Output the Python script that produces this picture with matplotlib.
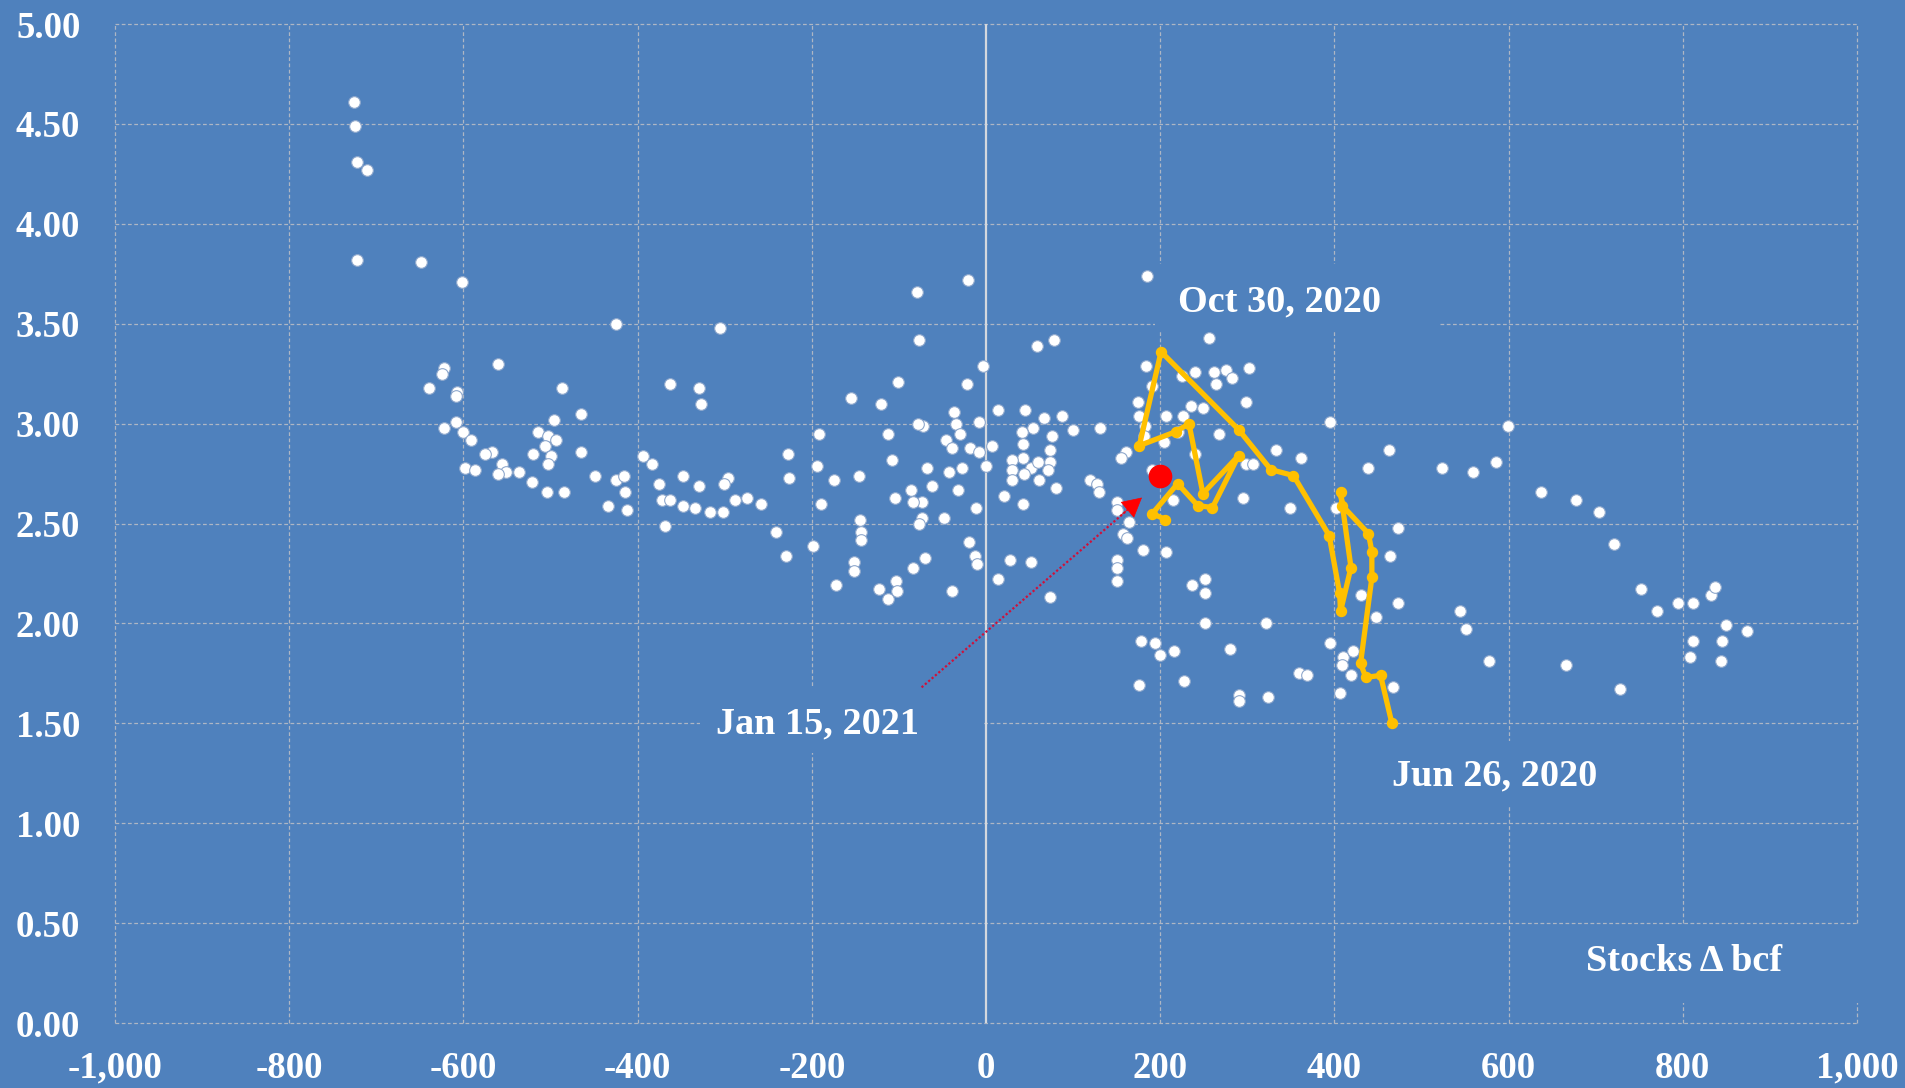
import matplotlib
matplotlib.use("Agg")
import matplotlib.pyplot as plt
from matplotlib.patches import Rectangle
from matplotlib.ticker import FuncFormatter, MultipleLocator

# ── Data ──────────────────────────────────────────────────────
# weekly storage change (bcf) vs price
stocks_x = [
    -726, -724, -722, -711, -722, -649, -602, -425, -305, -560, -622, -625, -640, -607, -609,
    -487, -363, -330, -327, -465, -496, -609, -622, -600, -591, -514, -503, -494, -506, -520,
    -500, -503, -465, -567, -575, -556, -551, -560, -598, -587, -536, -521, -504, -485, -449,
    -425, -416, -414, -434, -412, -394, -383, -376, -372, -363, -369, -348, -330, -348, -334,
    -317, -302, -296, -301, -288, -274, -258, -241, -230, -199, -227, -226, -192, -194, -190,
    -21, -79, -77, 58, 78, -4, -101, -22, -155, -121, -113, -72, -78, -37, -35, -30, -46, -39,
    -8, -18, -8, 7, 0, 14, 45, 67, 87, 100, 131, 54, 41, 43, 76, 74, 73, 43, 30, 30,
    52, 60, 44, 30, 61, 71, 80, 21, 43, -11, -28, -42, -68, -62, -32, -86, -74, -84, -104,
    -108, -146, -174, -74, -77, -48, -145, -144, -144, -152, -152, -172, -123, -112, -103, -102, -84, -70,
    -39, -19, -13, -10, 14, 27, 52, 74, 119, 127, 130, 150, 150, 164, 157, 162, 150, 150, 150,
    180, 207, 161, 155, 190, 215, 204, 220, 182, 176, 174, 207, 184, 191, 185, 256, 225, 240,
    262, 276, 282, 264, 302, 235, 249, 226, 240, 267, 181, 298,
    251, 236, 251, 251, 178, 194, 200, 216, 176, 227,
    299, 307, 333, 362, 395, 463, 439, 524, 559, 585, 295, 349, 402, 473, 464, 473, 431, 448,
    544, 551, 577, 395, 410, 421, 409, 419, 406, 467, 359, 368, 291, 291, 324, 322, 280,
    599, 637, 677, 704, 721, 752, 770, 794, 812, 832, 837, 850, 874, 812, 845, 808, 844, 666, 728,
]
price_y = [
    4.61, 4.49, 4.31, 4.27, 3.82, 3.81, 3.71, 3.50, 3.48, 3.30, 3.28, 3.25, 3.18, 3.16, 3.14,
    3.18, 3.20, 3.18, 3.10, 3.05, 3.02, 3.01, 2.98, 2.96, 2.92, 2.96, 2.94, 2.92, 2.89, 2.85,
    2.84, 2.80, 2.86, 2.86, 2.85, 2.80, 2.76, 2.75, 2.78, 2.77, 2.76, 2.71, 2.66, 2.66, 2.74,
    2.72, 2.74, 2.66, 2.59, 2.57, 2.84, 2.80, 2.70, 2.62, 2.62, 2.49, 2.74, 2.69, 2.59, 2.58,
    2.56, 2.56, 2.73, 2.70, 2.62, 2.63, 2.60, 2.46, 2.34, 2.39, 2.85, 2.73, 2.95, 2.79, 2.60,
    3.72, 3.66, 3.42, 3.39, 3.42, 3.29, 3.21, 3.20, 3.13, 3.10, 2.95, 2.99, 3.00, 3.06, 3.00, 2.95, 2.92, 2.88,
    3.01, 2.88, 2.86, 2.89, 2.79, 3.07, 3.07, 3.03, 3.04, 2.97, 2.98, 2.98, 2.96, 2.90, 2.94, 2.87, 2.81, 2.83, 2.82, 2.77,
    2.78, 2.81, 2.75, 2.72, 2.72, 2.77, 2.68, 2.64, 2.60, 2.58, 2.78, 2.76, 2.78, 2.69, 2.67, 2.67, 2.61, 2.61, 2.63,
    2.82, 2.74, 2.72, 2.53, 2.50, 2.53, 2.52, 2.46, 2.42, 2.31, 2.26, 2.19, 2.17, 2.12, 2.21, 2.16, 2.28, 2.33,
    2.16, 2.41, 2.34, 2.30, 2.22, 2.32, 2.31, 2.13, 2.72, 2.70, 2.66, 2.61, 2.57, 2.51, 2.45, 2.43, 2.32, 2.28, 2.21,
    2.37, 2.36, 2.86, 2.83, 2.77, 2.62, 2.91, 2.96, 2.99, 3.04, 3.11, 3.04, 3.29, 3.19, 3.74, 3.43, 3.24, 3.26,
    3.26, 3.27, 3.23, 3.20, 3.28, 3.09, 3.08, 3.04, 2.85, 2.95, 2.94, 3.11,
    2.22, 2.19, 2.15, 2.00, 1.91, 1.90, 1.84, 1.86, 1.69, 1.71,
    2.80, 2.80, 2.87, 2.83, 3.01, 2.87, 2.78, 2.78, 2.76, 2.81, 2.63, 2.58, 2.58, 2.48, 2.34, 2.10, 2.14, 2.03,
    2.06, 1.97, 1.81, 1.90, 1.83, 1.86, 1.79, 1.74, 1.65, 1.68, 1.75, 1.74, 1.64, 1.61, 1.63, 2.00, 1.87,
    2.99, 2.66, 2.62, 2.56, 2.40, 2.17, 2.06, 2.10, 2.10, 2.14, 2.18, 1.99, 1.96, 1.91, 1.91, 1.83, 1.81, 1.79, 1.67,
]

# Jun 26, 2020 -> Jan 2021 weekly track
track_x = [466, 453, 436, 430, 443, 443, 439, 409, 407, 419, 407, 406, 394, 353, 327, 290,
           201, 176, 218, 233, 249, 290, 260, 243, 220, 191, 206]
track_y = [1.50, 1.74, 1.73, 1.80, 2.23, 2.36, 2.45, 2.59, 2.66, 2.28, 2.06, 2.15, 2.44, 2.74, 2.77, 2.97,
           3.36, 2.89, 2.96, 3.00, 2.65, 2.84, 2.58, 2.59, 2.70, 2.55, 2.52]

latest_x, latest_y = 200, 2.74          # Jan 15, 2021
arrow_from = (-74, 1.68)
arrow_to = (179, 2.63)

x_ticks = list(range(-1000, 1001, 200))
y_ticks = [i * 0.5 for i in range(11)]

# ── Style ─────────────────────────────────────────────────────
BG = "#4F81BD"
GRID = "#AEB6C4"
GOLD = "#FFC000"
FONT = ["Liberation Serif", "DejaVu Serif"]

plt.rcParams["font.family"] = FONT
plt.rcParams["font.weight"] = "bold"

fig = plt.figure(figsize=(19.05, 10.88), dpi=100, facecolor=BG)
ax = fig.add_axes([0.0604, 0.0597, 0.9144, 0.9182], facecolor=BG)

ax.set_xlim(-1000, 1000)
ax.set_ylim(0, 5)
ax.xaxis.set_major_locator(MultipleLocator(200))
ax.yaxis.set_major_locator(MultipleLocator(0.5))
ax.xaxis.set_major_formatter(FuncFormatter(lambda v, p: f"{v:,.0f}"))
ax.yaxis.set_major_formatter(FuncFormatter(lambda v, p: f"{v:.2f}"))
ax.tick_params(length=0, labelsize=26.5, labelcolor="white")
ax.tick_params(axis="x", pad=20)
ax.tick_params(axis="y", pad=25)
for s in ax.spines.values():
    s.set_visible(False)

# dashed grid incl. the frame lines
for xv in x_ticks:
    if xv != 0:
        ax.axvline(xv, color=GRID, lw=0.9, ls=(0, (3, 2)), zorder=0, clip_on=False)
for yv in y_ticks:
    ax.axhline(yv, color=GRID, lw=0.9, ls=(0, (3, 2)), zorder=0, clip_on=False)
ax.axvline(0, color="#D4D8DE", lw=1.6, zorder=0.5)

# label boxes (hide the grid behind the text, like Excel text boxes)
boxes = [(194, 3.47, 325, 0.33), (-328, 1.35, 324, 0.33),
         (444, 1.08, 334, 0.33), (656, 0.10, 348, 0.39)]
for bx, by, bw, bh in boxes:
    ax.add_patch(Rectangle((bx, by), bw, bh, facecolor=BG, edgecolor="none",
                           zorder=1, clip_on=False))

# scatter of all weeks
ax.plot(stocks_x, price_y, ls="none", marker="o", ms=8.4, mfc="white",
        mec="#8FA8CC", mew=0.8, zorder=2)

# 2020-21 track
ax.plot(track_x, track_y, color=GOLD, lw=3.8, marker="o", ms=7.2, mfc=GOLD,
        mec=GOLD, zorder=3)

# latest week
ax.plot([latest_x], [latest_y], ls="none", marker="o", ms=16, mfc="#FF0000",
        mec="#FF0000", zorder=4)

# dotted pointer with solid head
ax.plot([arrow_from[0], arrow_to[0] - 12], [arrow_from[1], arrow_to[1] - 0.045],
        color="#D0103A", lw=1.6, ls=(0, (1, 1)), zorder=5)
ax.annotate("", xy=arrow_to, xytext=(arrow_to[0] - 25, arrow_to[1] - 0.092),
            arrowprops=dict(arrowstyle="-|>,head_length=1.3,head_width=0.7",
                            color="#FF0000", lw=0.5, shrinkA=0, shrinkB=0),
            zorder=5)

# annotations
txt = dict(color="white", fontsize=27.5, fontweight="bold", ha="center",
           va="baseline", zorder=6)
ax.text(337, 3.56, "Oct 30, 2020", **txt)
ax.text(-193, 1.451, "Jan 15, 2021", **txt)
ax.text(584, 1.191, "Jun 26, 2020", **txt)
ax.text(802, 0.26, "Stocks \u0394 bcf", **txt)

fig.savefig("out.png", dpi=100, facecolor=BG)
